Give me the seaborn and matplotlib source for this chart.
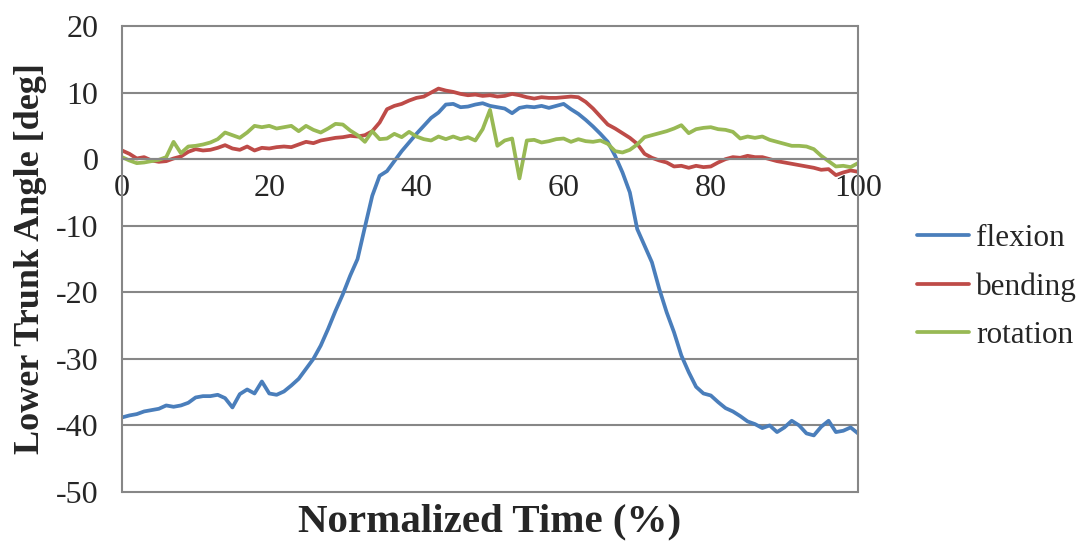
import numpy as np
import pandas as pd
import matplotlib
matplotlib.use("Agg")
import matplotlib.pyplot as plt
import seaborn as sns

# normalized time (%) and trunk angles
time_pct = np.arange(0, 101)

flexion = [
    -38.8, -38.5, -38.3, -37.9, -37.7, -37.5, -37.0, -37.2, -37.0, -36.6,
    -35.8, -35.6, -35.6, -35.4, -35.9, -37.3, -35.3, -34.6, -35.2, -33.4,
    -35.2, -35.4, -34.9, -34.0, -33.0, -31.5, -30.0, -28.0, -25.5, -22.8,
    -20.3, -17.5, -15.0, -10.2, -5.5, -2.5, -1.8, -0.3, 1.2, 2.5,
    3.8, 5.0, 6.2, 7.0, 8.2, 8.3, 7.8, 7.9, 8.2, 8.4,
    8.0, 7.8, 7.6, 6.9, 7.7, 7.9, 7.8, 8.0, 7.7, 8.0,
    8.3, 7.5, 6.8, 5.9, 4.9, 3.8, 2.6, 0.5, -2.0, -5.0,
    -10.5, -13.0, -15.5, -19.5, -23.0, -26.0, -29.5, -32.0, -34.2, -35.2,
    -35.5, -36.5, -37.4, -37.9, -38.6, -39.4, -39.8, -40.4, -40.0, -41.0,
    -40.3, -39.3, -40.0, -41.2, -41.5, -40.2, -39.3, -41.0, -40.8, -40.3,
    -41.2,
]

bending = [
    1.3, 0.8, 0.1, 0.3, -0.2, -0.4, -0.3, 0.1, 0.4, 1.1,
    1.5, 1.3, 1.4, 1.7, 2.1, 1.6, 1.4, 1.9, 1.3, 1.7,
    1.6, 1.8, 1.9, 1.8, 2.2, 2.6, 2.4, 2.8, 3.0, 3.2,
    3.3, 3.5, 3.4, 3.6, 4.2, 5.5, 7.5, 8.0, 8.3, 8.8,
    9.2, 9.4, 10.0, 10.6, 10.3, 10.1, 9.8, 9.6, 9.7, 9.5,
    9.6, 9.4, 9.5, 9.8, 9.6, 9.3, 9.1, 9.3, 9.2, 9.2,
    9.3, 9.4, 9.3, 8.6, 7.6, 6.4, 5.2, 4.6, 3.9, 3.2,
    2.3, 0.8, 0.2, -0.2, -0.5, -1.1, -1.0, -1.3, -1.0, -1.2,
    -1.1, -0.5, 0.0, 0.3, 0.2, 0.5, 0.3, 0.3, 0.0, -0.3,
    -0.5, -0.7, -0.9, -1.1, -1.3, -1.6, -1.5, -2.4, -2.0, -1.7,
    -1.9,
]

rotation = [
    0.3, -0.2, -0.6, -0.5, -0.3, -0.1, 0.3, 2.6, 0.9, 1.9,
    2.0, 2.2, 2.5, 3.0, 4.0, 3.6, 3.2, 4.0, 5.0, 4.8,
    5.0, 4.6, 4.8, 5.0, 4.2, 5.0, 4.4, 4.0, 4.6, 5.3,
    5.2, 4.3, 3.6, 2.6, 4.2, 3.0, 3.1, 3.8, 3.3, 4.1,
    3.4, 3.0, 2.8, 3.4, 3.0, 3.4, 3.0, 3.3, 2.8, 4.5,
    7.4, 2.0, 2.8, 3.1, -2.9, 2.8, 2.9, 2.5, 2.7, 3.0,
    3.1, 2.6, 3.0, 2.7, 2.6, 2.8, 2.3, 1.2, 1.0, 1.4,
    2.2, 3.3, 3.6, 3.9, 4.2, 4.6, 5.1, 3.9, 4.5, 4.7,
    4.8, 4.5, 4.4, 4.1, 3.1, 3.4, 3.2, 3.4, 2.9, 2.6,
    2.3, 2.0, 2.0, 1.9, 1.5, 0.5, -0.3, -1.1, -1.0, -1.2,
    -0.6,
]

series_names = ["flexion", "bending", "rotation"]
series_colors = ["#4A7EBB", "#BE4B48", "#98B954"]
x_ticks = [0, 20, 40, 60, 80, 100]
y_ticks = [-50, -40, -30, -20, -10, 0, 10, 20]

df = pd.concat([
    pd.DataFrame({"time": time_pct, "angle": vals, "series": name})
    for name, vals in zip(series_names, [flexion, bending, rotation])
])

sns.set_style("white")
plt.rcParams["font.family"] = ["Liberation Serif", "DejaVu Serif"]
plt.rcParams["axes.unicode_minus"] = False

grid_c = "#878787"
fig = plt.figure(figsize=(10.81, 5.44), dpi=100)
ax = fig.add_axes([0.1129, 0.0956, 0.6808, 0.8566])

sns.lineplot(data=df, x="time", y="angle", hue="series",
             hue_order=series_names, palette=series_colors,
             linewidth=2.7, ax=ax, legend=True)

ax.set_xlim(0, 100)
ax.set_ylim(-50, 20)
ax.set_xticks(x_ticks)
ax.set_yticks(y_ticks)
ax.yaxis.grid(True, color=grid_c, linewidth=1.5)
for gl in ax.get_ygridlines():
    gl.set_clip_on(False)
ax.set_axisbelow(True)

# x axis runs through zero, like the original spreadsheet chart
ax.spines["bottom"].set_position(("data", 0))
ax.spines["top"].set_visible(False)
for side in ["bottom", "left", "right"]:
    ax.spines[side].set_color(grid_c)
    ax.spines[side].set_linewidth(1.5)

ax.tick_params(axis="x", direction="out", length=7, width=1.5, color=grid_c,
               labelsize=23, pad=4)
ax.tick_params(axis="y", direction="out", length=7, width=1.5, color=grid_c,
               labelsize=23, pad=10)

ax.set_xlabel("Normalized Time (%)", fontsize=29.5, fontweight="bold", labelpad=0)
ax.xaxis.set_label_coords(0.5, -0.025)
ax.set_ylabel("Lower Trunk Angle [deg]", fontsize=26, fontweight="bold",
              labelpad=6)

handles, labels = ax.get_legend_handles_labels()
ax.legend(handles, labels, loc="center left",
          bbox_to_anchor=(917 / 1081, 1 - 287 / 544),
          bbox_transform=fig.transFigure, borderpad=0, borderaxespad=0,
          frameon=False, fontsize=22.5, handlelength=1.65, handletextpad=0.25,
          labelspacing=0.62)

fig.savefig("out.png", dpi=100)
